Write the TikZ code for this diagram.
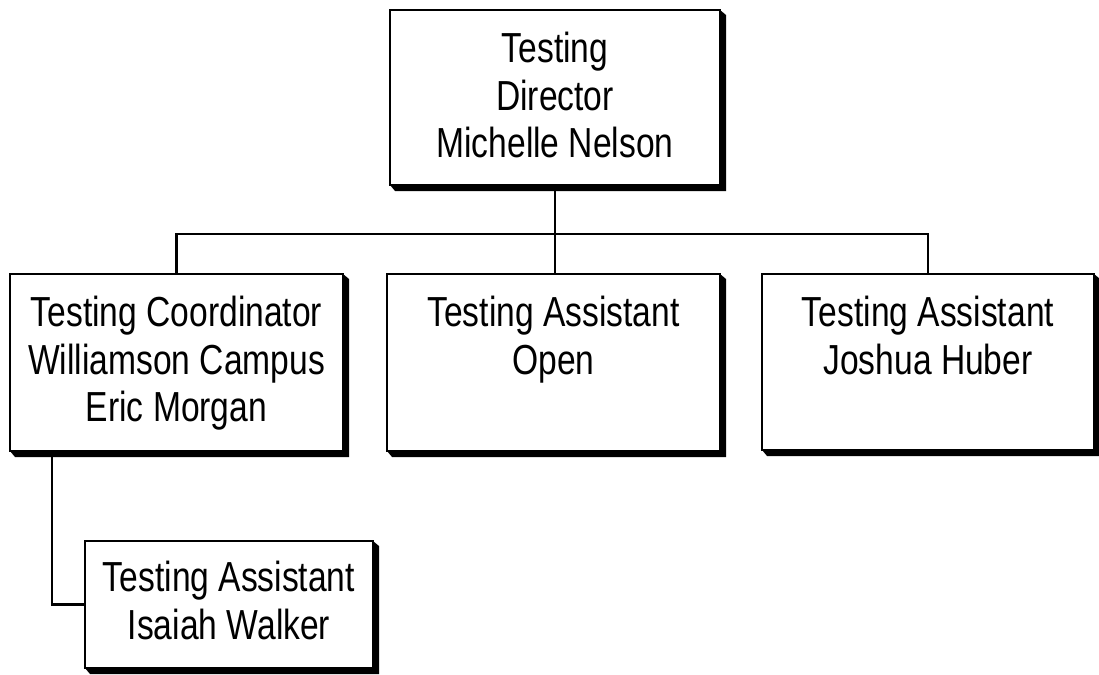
\documentclass[tikz,border=0pt]{standalone}
\usepackage{fontspec}
\setmainfont[FakeStretch=0.8]{Liberation Sans}
\begin{document}
\begin{tikzpicture}[x=1pt,y=-1pt,
  box/.style={draw=black,fill=white,line width=2.4pt,inner sep=0pt,outer sep=0pt,anchor=north west},
  txt/.style={inner sep=0pt,anchor=north,align=center,font=\fontsize{42}{47.5}\selectfont},
  conn/.style={draw=black,line width=2.4pt}]
\useasboundingbox (0,0) rectangle (1099,674);
\newcommand\boxshadow[1]{\fill[black] (#1.south west) -- ++(5,6) -- ([shift={(6,6)}]#1.south east) -- ([shift={(6,5)}]#1.north east) -- (#1.north east) -- (#1.south east) -- cycle;}
% boxes
\node[box,minimum width=330pt,minimum height=175pt] (dir) at (390,10) {};
\node[box,minimum width=333pt,minimum height=177pt] (coord) at (10,274) {};
\node[box,minimum width=333pt,minimum height=177pt] (mid) at (387,274) {};
\node[box,minimum width=332pt,minimum height=176pt] (rgt) at (762,274) {};
\node[box,minimum width=288pt,minimum height=127pt] (isa) at (85,541) {};
\boxshadow{dir}
\boxshadow{coord}
\boxshadow{mid}
\boxshadow{rgt}
\boxshadow{isa}
% texts
\node[txt] (dirT) at ([yshift=-22pt]dir.north) {Testing\\Director\\Michelle Nelson};
\node[txt] (coordT) at ([yshift=-22pt]coord.north) {Testing Coordinator\\Williamson Campus\\Eric Morgan};
\node[txt] (midT) at ([yshift=-22pt]mid.north) {Testing Assistant\\Open};
\node[txt] (rgtT) at ([yshift=-22pt]rgt.north) {Testing Assistant\\Joshua Huber};
\node[txt] (isaT) at ([yshift=-20pt]isa.north) {Testing Assistant\\Isaiah Walker};
% connectors
\coordinate (bus) at (dir.south |- 0,234);
\draw[conn] (dir.south) -- (bus);
\draw[conn] (coord.north) |- (bus);
\draw[conn] (rgt.north) |- (bus);
\draw[conn] (mid.north -| bus) -- (bus);
\draw[conn] ([xshift=42pt]coord.south west) |- (isa.west);
\end{tikzpicture}
\end{document}
